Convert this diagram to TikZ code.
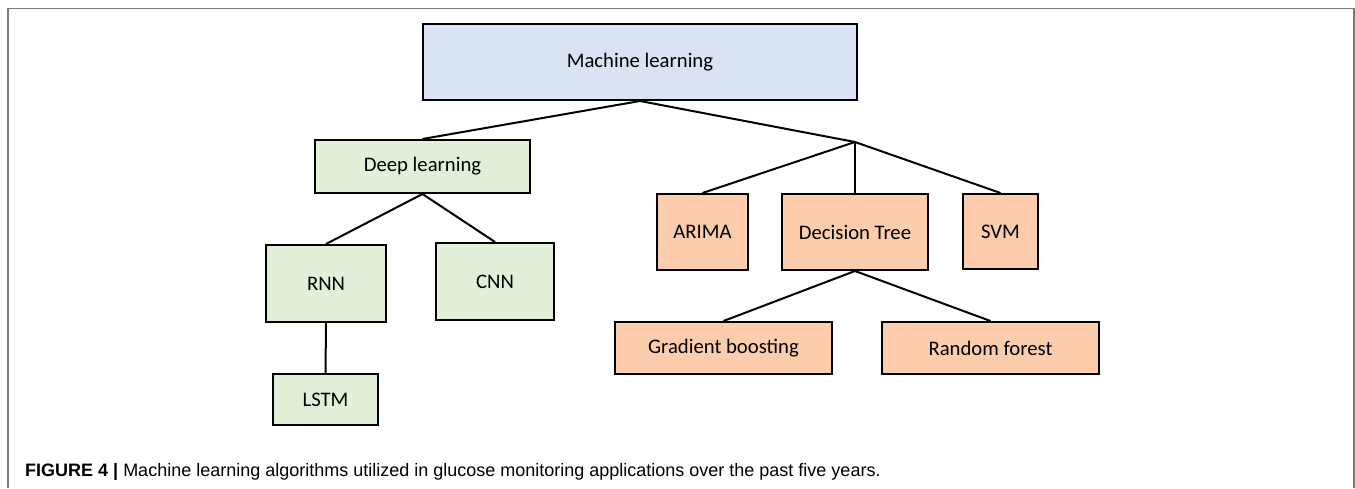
\documentclass[tikz,border=0pt]{standalone}
\usepackage{fontspec}
\setmainfont{Carlito}
\newfontfamily\capfont{Liberation Sans}
\definecolor{mlfill}{HTML}{DAE3F3}
\definecolor{dlfill}{HTML}{E2F0D9}
\definecolor{orfill}{HTML}{FBCDAC}
\definecolor{framegray}{HTML}{7A7A7A}
\begin{document}
\begin{tikzpicture}[x=1pt,y=-1pt,
  box/.style={draw=black, line width=2pt, inner sep=0pt, align=center,
    font=\fontsize{20.7}{24}\selectfont},
  mlbox/.style={box, fill=mlfill},
  dlbox/.style={box, fill=dlfill},
  orbox/.style={box, fill=orfill},
  link/.style={line width=2pt, draw=black}]
\useasboundingbox (0,0) rectangle (1355,488);
% frame
\draw[framegray, line width=1.5pt] (8,488) -- (8,8.5) -- (1354,8.5) -- (1354,488);
% nodes
\node[mlbox, minimum width=434pt, minimum height=76pt] (ml) at (640,62) {Machine learning};
\node[dlbox, minimum width=215pt, minimum height=53pt] (dl) at (422.5,166.5) {Deep learning};
\node[dlbox, minimum width=120pt, minimum height=77pt] (rnn) at (326,283.5) {RNN};
\node[dlbox, minimum width=118pt, minimum height=77pt] (cnn) at (495,281.5) {CNN};
\node[dlbox, minimum width=105pt, minimum height=51pt] (lstm) at (325.5,399.5) {LSTM};
\node[orbox, minimum width=91pt, minimum height=76pt] (arima) at (702.5,232) {ARIMA};
\node[orbox, minimum width=146pt, minimum height=76pt] (dt) at (855,232) {Decision Tree};
\node[orbox, minimum width=75pt, minimum height=75pt] (svm) at (1000.5,231.5) {SVM};
\node[orbox, minimum width=217pt, minimum height=52pt] (gb) at (723.5,348) {Gradient boosting};
\node[orbox, minimum width=217pt, minimum height=52pt] (rf) at (990.5,348) {Random forest};
\coordinate (j) at (855,142);
% connectors
\draw[link] (ml.south) -- (dl.north);
\draw[link] (ml.south) -- (j);
\draw[link] (j) -- (arima.north);
\draw[link] (j) -- (dt.north);
\draw[link] (j) -- (svm.north);
\draw[link] (dl.south) -- (rnn.north);
\draw[link] (dl.south) -- (cnn.north);
\draw[link] (rnn.south) -- (lstm.north);
\draw[link] (dt.south) -- (gb.north);
\draw[link] (dt.south) -- (rf.north);
% caption
\node[anchor=base west, inner sep=0pt] (cap) at (25,476)
  {\capfont\fontsize{18}{21}\selectfont\textbf{FIGURE 4 |} Machine learning algorithms utilized in glucose monitoring applications over the past five years.};
\end{tikzpicture}
\end{document}
